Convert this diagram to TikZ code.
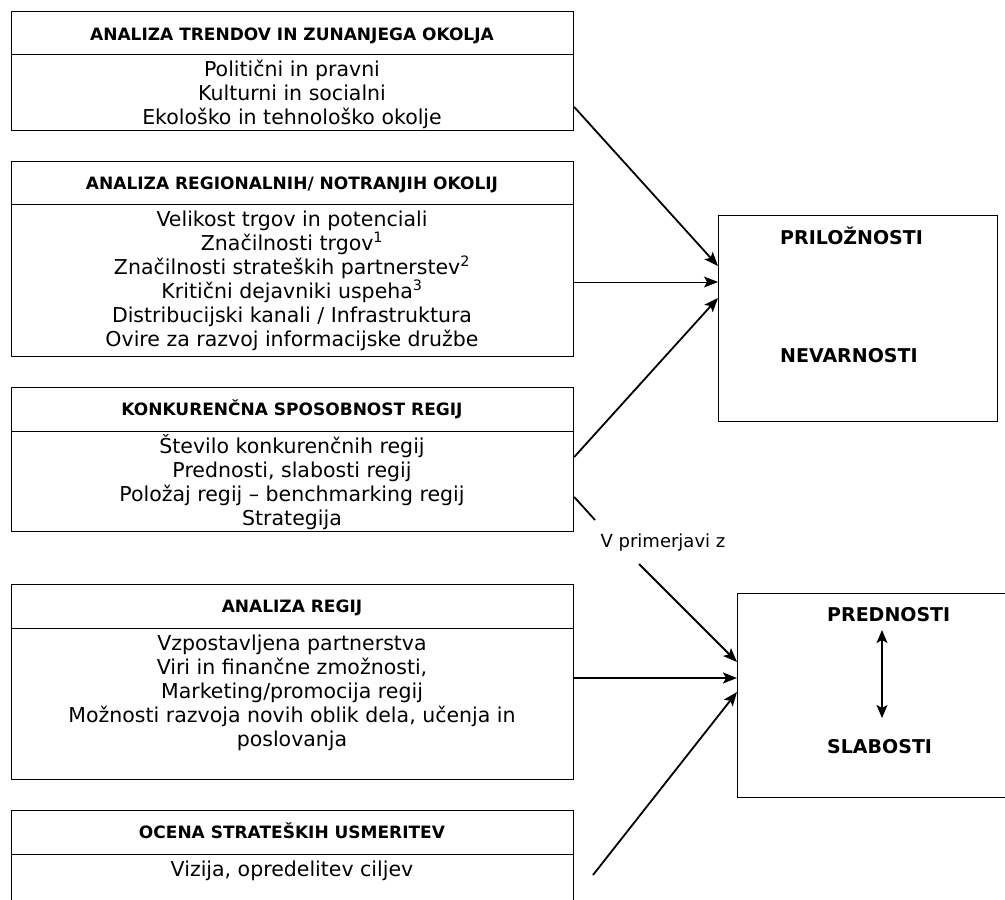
\documentclass[tikz,border=0pt]{standalone}
\usepackage{fontspec}
\setmainfont{DejaVu Sans}
\usetikzlibrary{arrows.meta}
\begin{document}
\begin{tikzpicture}[x=1pt,y=-1pt,
  box/.style={draw, line width=1.2pt, anchor=north west, inner sep=0pt, minimum width=562pt},
  rbox/.style={draw, line width=1.3pt, anchor=north west, inner sep=0pt},
  divider/.style={line width=1pt},
  hdr/.style={font=\fontsize{17}{19}\selectfont\bfseries, anchor=base, inner sep=0pt},
  body/.style={font=\fontsize{20.5}{24}\selectfont, align=center, anchor=base, inner sep=0pt},
  rlab/.style={font=\fontsize{19}{21}\selectfont\bfseries, anchor=base west, inner sep=0pt},
  arr/.style={line width=1.8pt, -{Stealth[length=14pt,width=11pt,inset=3pt]}},
  thinarr/.style={line width=1pt, -{Stealth[length=14pt,width=11pt,inset=3pt]}}
]
\clip (0,0) rectangle (1005,900);
\fill[white] (0,0) rectangle (1005,900);

% left boxes
\node[box, minimum height=119pt] (b1) at (11,11) {};
\node[box, minimum height=195pt] (b2) at (11,161) {};
\node[box, minimum height=144pt] (b3) at (11,387) {};
\node[box, minimum height=195pt] (b4) at (11,584) {};
\node[box, minimum height=120pt] (b5) at (11,810) {};

\draw[divider] (b1.west |- 0,54) -- (b1.east |- 0,54);
\draw[divider] (b2.west |- 0,204) -- (b2.east |- 0,204);
\draw[divider] (b3.west |- 0,431) -- (b3.east |- 0,431);
\draw[divider] (b4.west |- 0,628) -- (b4.east |- 0,628);
\draw[divider] (b5.west |- 0,854) -- (b5.east |- 0,854);

% headers
\node[hdr] (h1) at (292,40) {ANALIZA TRENDOV IN ZUNANJEGA OKOLJA};
\node[hdr] (h2) at (292,189) {ANALIZA REGIONALNIH/ NOTRANJIH OKOLIJ};
\node[hdr] (h3) at (292,415) {KONKURENČNA SPOSOBNOST REGIJ};
\node[hdr] (h4) at (292,612) {ANALIZA REGIJ};
\node[hdr] (h5) at (292,838) {OCENA STRATEŠKIH USMERITEV};

% bodies (base anchor = baseline of last line)
\node[body] (t1) at (292,124) {Politični in pravni\\Kulturni in socialni\\Ekološko in tehnološko okolje};
\node[body] (t2) at (292,346) {Velikost trgov in potenciali\\Značilnosti trgov\textsuperscript{1}\\Značilnosti strateških partnerstev\textsuperscript{2}\\Kritični dejavniki uspeha\textsuperscript{3}\\Distribucijski kanali / Infrastruktura\\Ovire za razvoj informacijske družbe};
\node[body] (t3) at (292,525) {Število konkurenčnih regij\\Prednosti, slabosti regij\\Položaj regij – benchmarking regij\\Strategija};
\node[body] (t4) at (292,746) {Vzpostavljena partnerstva\\Viri in finančne zmožnosti,\\Marketing/promocija regij\\Možnosti razvoja novih oblik dela, učenja in\\poslovanja};
\node[body] (t5) at (292,876) {Vizija, opredelitev ciljev};

% right boxes
\node[rbox, minimum width=279pt, minimum height=206pt] (r1) at (718,215) {};
\node[rlab] (p1) at (780,244) {PRILOŽNOSTI};
\node[rlab] (p2) at (780,362) {NEVARNOSTI};

\node[rbox, minimum width=290pt, minimum height=204pt] (r2) at (737,593) {};
\node[rlab] (q1) at (827,621) {PREDNOSTI};
\node[rlab] (q2) at (827,753) {SLABOSTI};
\draw[line width=1.6pt, {Stealth[length=13pt,width=11pt,inset=3pt]}-{Stealth[length=13pt,width=11pt,inset=3pt]}] (882,630) -- (882,718);

% connectors to r1
\draw[arr] (b1.east |- 0,107) -- (r1.west |- 0,266);
\draw[thinarr] (b2.east |- 0,282) -- (r1.west |- 0,282);
\draw[arr] (b3.east |- 0,457) -- (r1.west |- 0,298);

% connectors to r2
\node[font=\fontsize{18}{20}\selectfont, inner sep=0pt] (vp) at (663,543) {V primerjavi z};
\coordinate (va) at (595,520);
\coordinate (vb) at (639,564);
\draw[line width=1.8pt] (b3.east |- 0,497) -- (va);
\draw[arr] (vb) -- (r2.west |- 0,662);
\draw[arr] (b4.east |- 0,678) -- (r2.west |- 0,678);
\coordinate (s6) at (593,875);
\draw[arr] (s6) -- (r2.west |- 0,692);
\end{tikzpicture}
\end{document}
